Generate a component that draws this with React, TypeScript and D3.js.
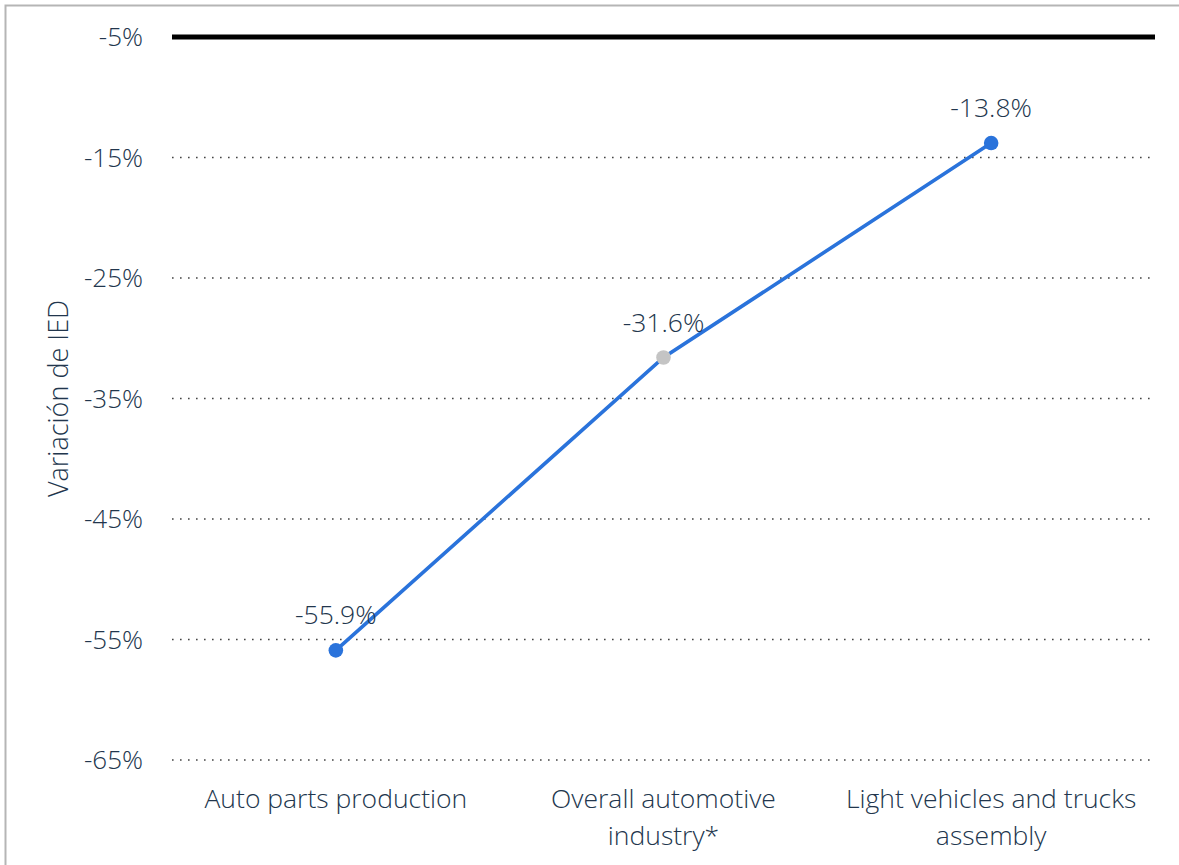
import React from "react";
import * as d3 from "d3";

const categories: string[][] = [
  ["Auto parts production"],
  ["Overall automotive", "industry*"],
  ["Light vehicles and trucks", "assembly"],
];
const values: number[] = [-55.9, -31.6, -13.8];
const pointColors: string[] = ["#2a73db", "#c4c4c4", "#2a73db"];
const yTicks: number[] = [-5, -15, -25, -35, -45, -55, -65];
const yTitle = "Variación de IED";

const W = 1179;
const H = 865;
const M = { left: 172, right: 1155, top: 37, bottom: 760 };
const FONT = "'Open Sans', sans-serif";
const TEXT = "#22364d";

export default function App() {
  const x = d3
    .scalePoint<number>()
    .domain(values.map((_, i) => i))
    .range([M.left, M.right])
    .padding(0.5);
  const y = d3.scaleLinear().domain([-65, -5]).range([M.bottom, M.top]);
  const line = d3
    .line<number>()
    .x((_, i) => x(i)!)
    .y((d) => y(d));

  return (
    <svg
      width={W}
      height={H}
      style={{ position: "absolute", left: 0, top: 0, background: "#fff" }}
      fontFamily={FONT}
    >
      <rect x={5.5} y={5.5} width={W + 20} height={H + 20} fill="#fff" stroke="#b5b5b5" strokeWidth={2} />
      {yTicks.map((t) => (
        <g key={t}>
          {t === -5 ? (
            <line x1={M.left} x2={M.right} y1={y(t)} y2={y(t)} stroke="#000" strokeWidth={5} />
          ) : (
            <line
              x1={M.left}
              x2={M.right}
              y1={y(t)}
              y2={y(t)}
              stroke="#444"
              strokeWidth={1.6}
              strokeDasharray="1.6,6.4"
            />
          )}
          <text
            x={143}
            y={y(t)}
            dy="0.35em"
            textAnchor="end"
            fontSize={26}
            fontWeight={300}
            fill={TEXT}
          >
            {t}%
          </text>
        </g>
      ))}
      <text
        transform={`translate(68, ${(M.top + M.bottom) / 2}) rotate(-90)`}
        textAnchor="middle"
        fontSize={27}
        fontWeight={300}
        fill={TEXT}
      >
        {yTitle}
      </text>
      <path d={line(values) || ""} fill="none" stroke="#2a73db" strokeWidth={3.6} />
      {values.map((v, i) => (
        <g key={i}>
          <circle cx={x(i)!} cy={y(v)} r={7.3} fill={pointColors[i]} />
          <text
            x={x(i)!}
            y={y(v) - 26}
            textAnchor="middle"
            fontSize={26.5}
            fontWeight={300}
            fill={TEXT}
          >
            {v.toFixed(1)}%
          </text>
        </g>
      ))}
      {categories.map((lines, i) => (
        <text
          key={i}
          x={x(i)!}
          y={808}
          textAnchor="middle"
          fontSize={26.5}
          fontWeight={300}
          fill={TEXT}
        >
          {lines.map((l, j) => (
            <tspan key={j} x={x(i)!} dy={j === 0 ? 0 : 37}>
              {l}
            </tspan>
          ))}
        </text>
      ))}
    </svg>
  );
}
